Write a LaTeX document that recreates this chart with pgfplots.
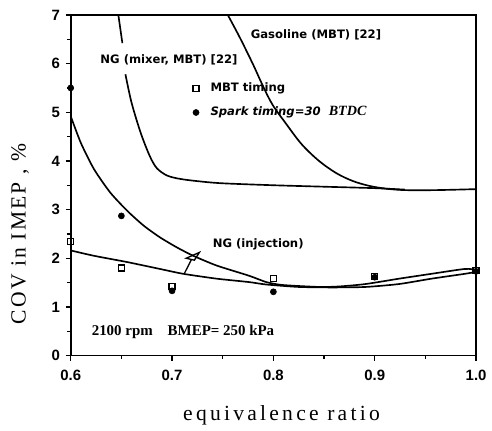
\documentclass[border=0pt]{standalone}
\usepackage{pgfplots}
\pgfplotsset{compat=1.18}
\usepackage{fontspec}
\setmainfont{Liberation Serif}
\newfontfamily\tickfont{Liberation Sans}
\newfontfamily\notefont{DejaVu Sans}
\newfontfamily\xlabfont[LetterSpace=15]{Liberation Serif}
\newfontfamily\ylabfont[LetterSpace=10]{Liberation Serif}

\begin{document}
\begin{tikzpicture}
\begin{axis}[
  scale only axis,
  width=244.2pt, height=205.2pt,
  xmin=0.6, xmax=1.0, ymin=0, ymax=7,
  xtick={0.6,0.7,0.8,0.9,1.0},
  ytick={0,1,2,3,4,5,6,7},
  minor x tick num=1, minor y tick num=1,
  xtick pos=bottom, ytick pos=left,
  tick align=outside,
  major tick length=3pt, minor tick length=2pt,
  every tick/.style={black, line width=0.8pt},
  axis line style={line width=1pt},
  /pgf/number format/assume math mode=true,
  xticklabel style={/pgf/number format/.cd, fixed, fixed zerofill, precision=1, /tikz/.cd, yshift=-2pt},
  ticklabel style={font=\tickfont\bfseries\fontsize{9}{10}\selectfont},
  xlabel={\xlabfont\fontsize{13}{15}\selectfont equivalence ratio},
  ylabel={\ylabfont\fontsize{13}{15}\selectfont COV in IMEP , \%},
  xlabel style={at={(axis description cs:0.52,-0.175)}, anchor=center},
  ylabel style={at={(axis description cs:-0.125,0.357)}, anchor=center},
  clip=false,
  legend style={draw=none, fill=none, at={(axis cs:0.716,5.68)}, anchor=north west,
    font=\notefont\bfseries\fontsize{7}{8}\selectfont, row sep=3.5pt,
    inner xsep=0pt, inner ysep=0pt},
  legend cell align=left,
  legend image code/.code={\draw[#1] plot coordinates {(0.15cm,0cm)}; \path (0cm,0cm) (0.38cm,0cm);},
]
% gasoline (MBT) [22]
\addplot[black, line width=1pt, smooth, tension=0.55, forget plot] coordinates {
 (0.755,7.0) (0.767,6.53) (0.780,5.98) (0.789,5.57) (0.799,5.16) (0.813,4.75)
 (0.828,4.34) (0.845,4.00) (0.862,3.75) (0.878,3.59) (0.894,3.49) (0.911,3.43)
 (0.93,3.40) (0.96,3.40) (1.0,3.42)};
% NG (mixer, MBT) [22], top segment
\addplot[black, line width=1pt, forget plot] coordinates {(0.647,7.0) (0.651,6.42)};
% NG (mixer, MBT) [22], lower segment
\addplot[black, line width=1pt, smooth, tension=0.5, forget plot] coordinates {
 (0.654,5.78) (0.660,5.20) (0.669,4.58) (0.678,4.10) (0.685,3.85) (0.695,3.70)
 (0.708,3.63) (0.727,3.58) (0.75,3.54) (0.80,3.50) (0.85,3.47) (0.90,3.44)
 (0.93,3.41)};
% NG (injection), spark timing fit
\addplot[black, line width=1pt, smooth, tension=0.4, forget plot] coordinates {
 (0.6,4.92) (0.610,4.37) (0.623,3.83) (0.639,3.35) (0.656,2.97) (0.672,2.67)
 (0.688,2.43) (0.705,2.22) (0.721,2.05) (0.744,1.85) (0.776,1.64) (0.793,1.51)
 (0.809,1.45) (0.845,1.41) (0.865,1.42) (0.891,1.47) (0.924,1.58) (0.956,1.68)
 (0.989,1.78) (1.0,1.76)};
% NG (injection), MBT fit
\addplot[black, line width=1pt, smooth, tension=0.4, forget plot] coordinates {
 (0.6,2.16) (0.623,2.05) (0.656,1.92) (0.688,1.78) (0.711,1.68) (0.744,1.58)
 (0.776,1.51) (0.793,1.46) (0.825,1.41) (0.858,1.40) (0.891,1.41) (0.924,1.47)
 (0.956,1.58) (0.989,1.68) (1.0,1.72)};
% measured points
\addplot[only marks, mark=square, mark size=1.8pt, mark options={line width=0.8pt, fill=white}] coordinates {
 (0.6,2.35) (0.65,1.80) (0.7,1.42) (0.8,1.59) (0.9,1.63) (1.0,1.75)};
\addlegendentry{MBT timing}
\addplot[only marks, mark=*, mark size=1.8pt, black] coordinates {
 (0.6,5.5) (0.65,2.87) (0.7,1.33) (0.8,1.31) (0.9,1.61) (1.0,1.73)};
\addlegendentry{\itshape Spark timing=30\ \ {\rmfamily\fontsize{8.5}{9}\selectfont BTDC}}
% labels
\node[font=\notefont\bfseries\fontsize{7}{8}\selectfont] at (axis cs:0.697,6.08) {NG (mixer, MBT) [22]};
\node[font=\notefont\bfseries\fontsize{7}{8}\selectfont] at (axis cs:0.842,6.59) {Gasoline (MBT) [22]};
\node[font=\notefont\bfseries\fontsize{7}{8}\selectfont] at (axis cs:0.785,2.29) {NG (injection)};
\node[font=\rmfamily\bfseries\fontsize{9}{10}\selectfont, anchor=west] at (axis cs:0.615,0.49) {2100 rpm\quad BMEP= 250 kPa};
% pointer
\draw[line width=0.8pt] (axis cs:0.712,1.68) -- (axis cs:0.719,1.97);
\draw[line width=0.8pt] (axis cs:0.714,2.0) -- (axis cs:0.727,2.12) -- (axis cs:0.722,1.96) -- cycle;
\end{axis}
\path (current axis.south west) ++(-42.6pt,-43.2pt);
\path (current axis.north east) ++(8.4pt,9pt);
\end{tikzpicture}
\end{document}
